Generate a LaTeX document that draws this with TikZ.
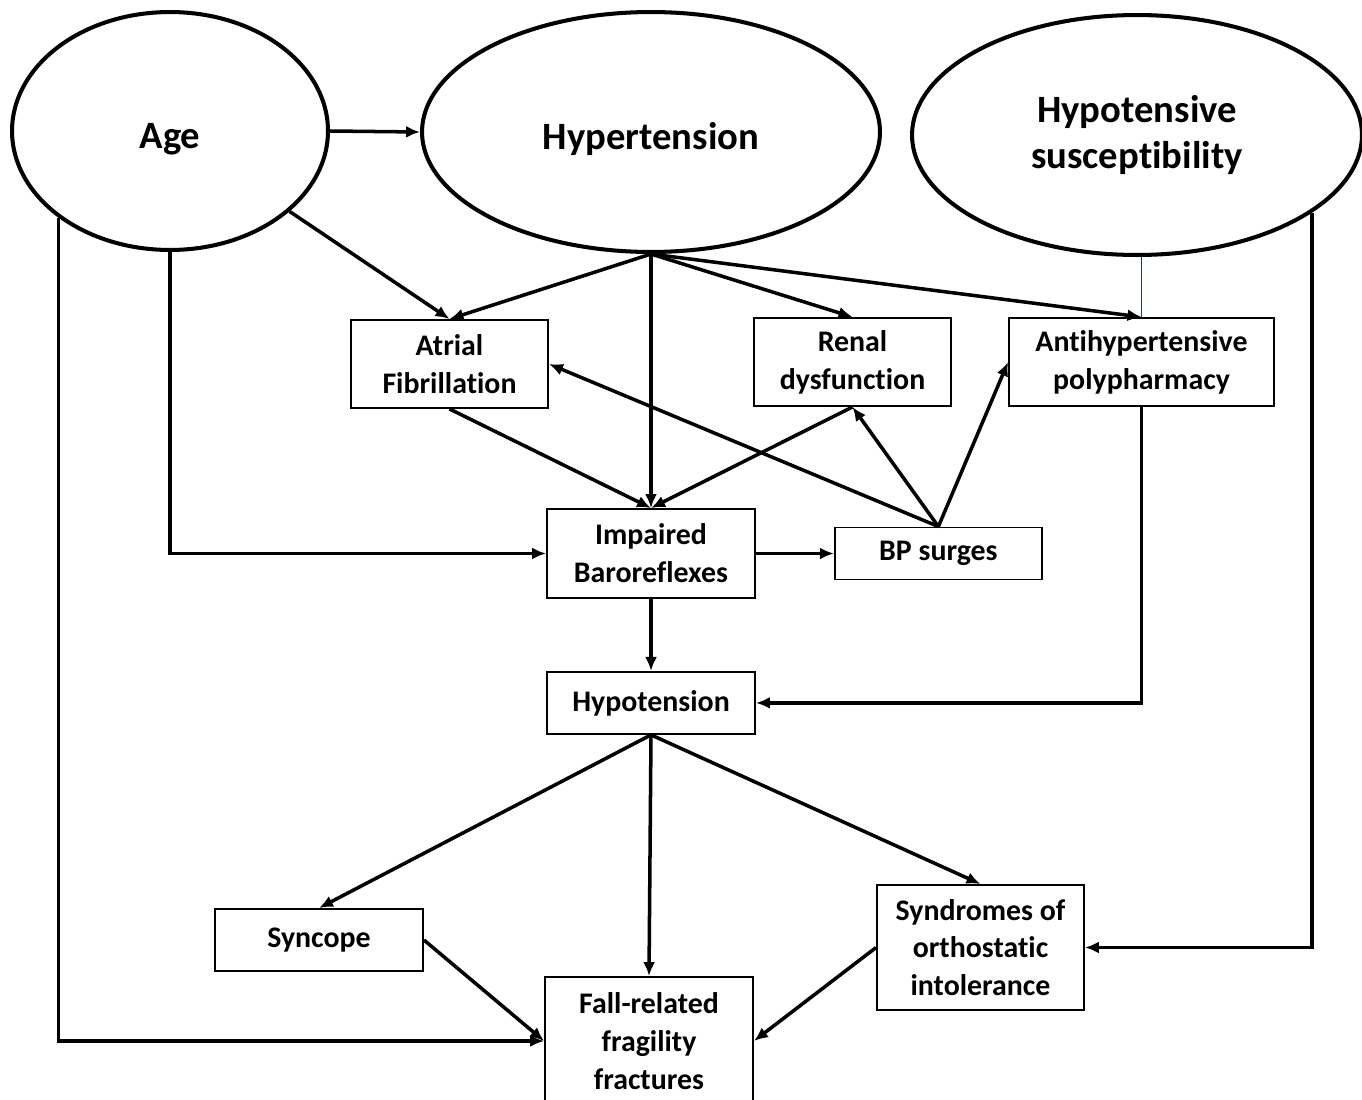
\documentclass[tikz,border=0pt]{standalone}
\usepackage{fontspec}
\setmainfont{Carlito}[Ligatures=NoCommon]
\usetikzlibrary{positioning,arrows.meta,shapes.geometric}

\definecolor{linkblue}{RGB}{31,56,100}

\begin{document}
\begin{tikzpicture}[
			x=0.02cm,y=-0.02cm,
			>={Latex[length=2.8mm,width=2.4mm]},
			oval/.style={
				draw,
				ellipse,
				line width=2.3pt,
				inner sep=0pt,
				align=center,
				font=\fontsize{22}{26}\selectfont\bfseries
			},
			box/.style={
				draw,
				line width=1.1pt,
				inner sep=0pt,
				minimum width=4.16cm,
				align=center,
				font=\fontsize{17}{21.5}\selectfont\bfseries
			},
			link/.style={->,line width=2pt}
			]
			
			\useasboundingbox (0,0) rectangle (1362,1099);
			
			%%%%%%%%%%%%%%%%%%%%%%%%%%%%%%%%%%%%%%%%%%%%%%%%%%%%%%
			% Nodes
			%%%%%%%%%%%%%%%%%%%%%%%%%%%%%%%%%%%%%%%%%%%%%%%%%%%%%%
			
			\node (age) [oval, minimum width=6.32cm, minimum height=4.76cm]
			at (170,131) {\smash{\raisebox{-0.36cm}{Age}}};
			
			\node (hyper) [oval, minimum width=9.16cm, minimum height=4.8cm]
			at (651,132) {\smash{\raisebox{-0.36cm}{Hypertension}}};
			
			\node (hypsus) [oval, minimum width=9.0cm, minimum height=4.8cm]
			at (1137,135) {Hypotensive\\susceptibility};
			
			\node (atrial) [box, minimum width=3.94cm, minimum height=1.76cm]
			at (449.5,364) {Atrial\\Fibrillation};
			
			\node (renal) [box, minimum width=3.94cm, minimum height=1.76cm]
			at (852.5,362) {Renal\\dysfunction};
			
			\node (antihyp) [box, minimum width=5.3cm, minimum height=1.76cm]
			at (1141.5,362) {Antihypertensive\\polypharmacy};
			
			\node (baro) [box, minimum height=1.78cm]
			at (651,553.5) {Impaired\\Baroreflexes};
			
			\node (surges) [box, minimum width=4.14cm, minimum height=1.04cm, right=1.56cm of baro]
			{BP surges};
			
			\node (hypotension) [box, minimum height=1.24cm, below=1.44cm of baro]
			{Hypotension};
			
			\node (syncope) [box, minimum height=1.24cm]
			at (319,940) {Syncope};
			
			\node (fall) [box, minimum height=2.56cm]
			at (649,1041) {Fall-related\\fragility\\fractures};
			
			\node (syndromes) [box, minimum width=4.14cm, minimum height=2.5cm]
			at (980.5,947.5) {Syndromes of\\orthostatic\\intolerance};
			
			%%%%%%%%%%%%%%%%%%%%%%%%%%%%%%%%%%%%%%%%%%%%%%%%%%%%%%
			% From Age and Hypertension
			%%%%%%%%%%%%%%%%%%%%%%%%%%%%%%%%%%%%%%%%%%%%%%%%%%%%%%
			
			\draw[link] (age.east) -- (hyper.west);
			
			\draw[link] (age) -- (atrial.north);
			
			\draw[link] (hyper.south) -- (atrial.north);
			
			\draw[link] (hyper.south) -- (baro.north);
			
			\draw[link] (hyper.south) -- (renal.north);
			
			\draw[link] (hyper.south) -- (antihyp.north);
			
			\draw[linkblue, line width=0.8pt]
			(antihyp.north) -- (antihyp.north |- hypsus.south);
			
			\draw[link] (age.south) |- (baro.west);
			
			\draw[link] (age.-142.3) |- (fall.west);
			
			%%%%%%%%%%%%%%%%%%%%%%%%%%%%%%%%%%%%%%%%%%%%%%%%%%%%%%
			% Middle
			%%%%%%%%%%%%%%%%%%%%%%%%%%%%%%%%%%%%%%%%%%%%%%%%%%%%%%
			
			\draw[link] (atrial.south) -- (baro.north);
			
			\draw[link] (renal.south) -- (baro.north);
			
			\draw[link] (surges.north) -- (atrial.east);
			
			\draw[link] (surges.north) -- (renal.south);
			
			\draw[link] (surges.north) -- (antihyp.west);
			
			\draw[link] (baro.east) -- (surges.west);
			
			\draw[link] (baro.south) -- (hypotension.north);
			
			\draw[link] (antihyp.south) |- (hypotension.east);
			
			%%%%%%%%%%%%%%%%%%%%%%%%%%%%%%%%%%%%%%%%%%%%%%%%%%%%%%
			% Outcomes
			%%%%%%%%%%%%%%%%%%%%%%%%%%%%%%%%%%%%%%%%%%%%%%%%%%%%%%
			
			\draw[link] (hypotension.south) -- (syncope.north);
			
			\draw[link] (hypotension.south) -- (fall.north);
			
			\draw[link] (hypotension.south) -- (syndromes.north);
			
			\draw[link] (syncope.east) -- (fall.west);
			
			\draw[link] (syndromes.west) -- (fall.east);
			
			\draw[link] (hypsus.-24.8) |- (syndromes.east);
			
			%%%%%%%%%%%%%%%%%%%%%%%%%%%%%%%%%%%%%%%%%%%%%%%%%%%%%%
			
		\end{tikzpicture}
\end{document}
